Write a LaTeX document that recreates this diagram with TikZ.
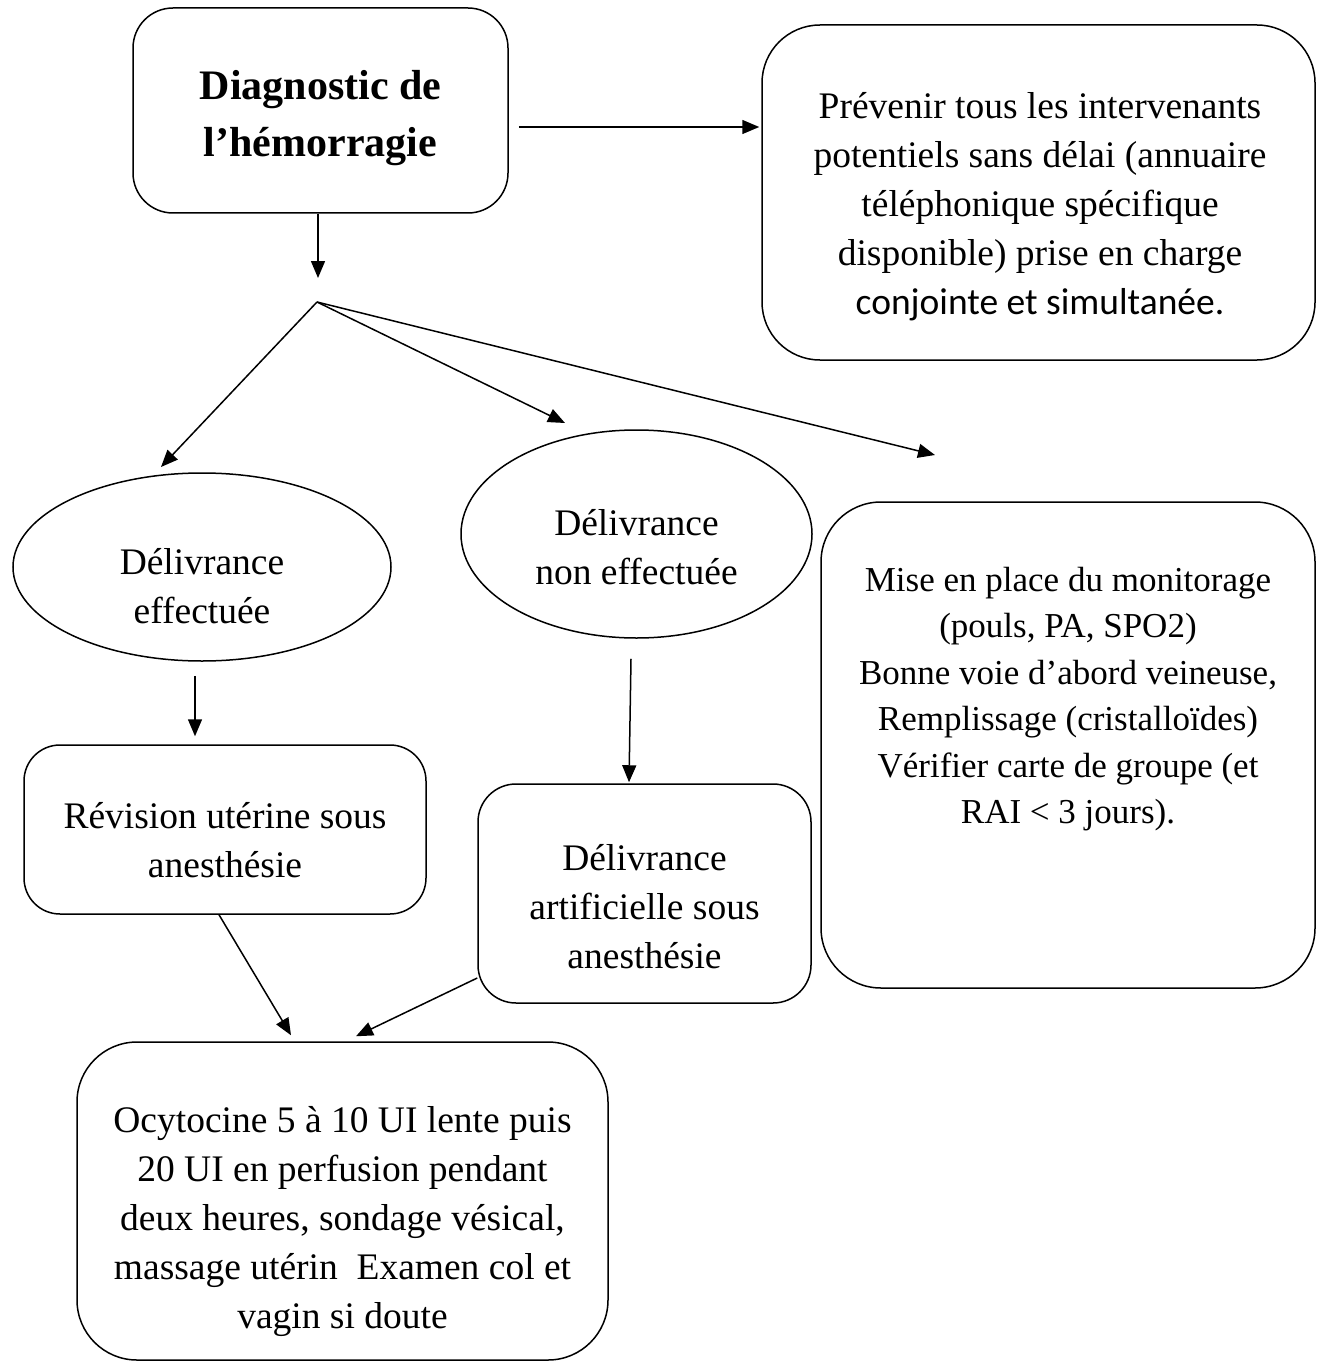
\documentclass[tikz,border=0pt]{standalone}
\usepackage{fontspec}
\setmainfont{Liberation Serif}
\newfontfamily\calibfont{Carlito}
\usetikzlibrary{arrows.meta,shapes.geometric}
\begin{document}
\begin{tikzpicture}[x=1pt,y=-1pt,
  rbox/.style={draw, line width=1.5pt, rounded corners=#1, inner sep=0pt},
  ell/.style={draw, ellipse, line width=1.5pt, inner sep=0pt},
  txt/.style={align=center, inner sep=0pt, font=\fontsize{37.5}{49}\selectfont},
  txtc/.style={align=center, inner sep=0pt, font=\fontsize{35}{46.5}\selectfont},
  txtb/.style={align=center, inner sep=0pt, font=\fontsize{42}{57}\selectfont\bfseries},
  arr/.style={-{Triangle[length=17pt,width=14pt]}, line width=1.5pt},
  conn/.style={line width=1.5pt}]
\useasboundingbox (0,0) rectangle (1325,1364);

% boxes and ellipses
\node[rbox=40pt, minimum width=375pt, minimum height=205pt] (A) at (320.5,110.5) {};
\node[rbox=58pt, minimum width=553pt, minimum height=335pt] (B) at (1038.5,192.5) {};
\node[rbox=60pt, minimum width=494pt, minimum height=486pt] (C) at (1068,745) {};
\node[ell, minimum width=378pt, minimum height=188pt] (E1) at (202,567) {};
\node[ell, minimum width=351pt, minimum height=208pt] (E2) at (636.5,534) {};
\node[rbox=36pt, minimum width=402pt, minimum height=169pt] (D) at (225,829.5) {};
\node[rbox=38pt, minimum width=333pt, minimum height=219pt] (E) at (644.5,893.5) {};
\node[rbox=60pt, minimum width=531pt, minimum height=318pt] (F) at (342.5,1201) {};

% texts
\node[txtb] (tA) at (320.5,117.1) {\strut Diagnostic de\\ l’hémorragie\strut};
\node[txt] (tB) at (1040,206.7) {\strut Prévenir tous les intervenants\\ potentiels sans délai (annuaire\\ téléphonique spécifique\\ disponible) prise en charge\\ {\calibfont conjointe et simultanée.}\strut};
\node[txtc] (tC) at (1068,698.2) {\strut Mise en place du monitorage\\ (pouls, PA, SPO2)\\ Bonne voie d’abord veineuse,\\ Remplissage (cristalloïdes)\\ Vérifier carte de groupe (et\\ RAI < 3 jours).\strut};
\node[txt] (tE1) at (202,589.2) {\strut Délivrance\\ effectuée\strut};
\node[txt] (tE2) at (636.5,550.2) {\strut Délivrance\\ non effectuée\strut};
\node[txt] (tD) at (225,842.7) {\strut Révision utérine sous\\ anesthésie\strut};
\node[txt] (tE) at (644.5,909.2) {\strut Délivrance\\ artificielle sous\\ anesthésie\strut};
\node[txt] (tF) at (342.5,1220.2) {\strut Ocytocine 5 à 10 UI lente puis\\ 20 UI en perfusion pendant\\ deux heures, sondage vésical,\\ massage utérin\ \ Examen col et\\ vagin si doute\strut};

% free ends
\coordinate (tipA) at (318,278);
\coordinate (J) at (317,302);
\coordinate (t1) at (161,467);
\coordinate (t2) at (565,423);
\coordinate (t3) at (935,455);

% connectors
\draw[arr] ([xshift=10pt,yshift=-16.5pt]A.east) -- ([xshift=-2pt,yshift=65.5pt]B.west);
\draw[arr] ([xshift=-2.5pt]A.south) -- (tipA);
\draw[arr] (J) -- (t1);
\draw[arr] (J) -- (t2);
\draw[arr] (J) -- (t3);
\draw[arr] ([xshift=-7pt,yshift=-14pt]E1.south) -- ([xshift=-30pt,yshift=8pt]D.north);
\draw[arr] ([xshift=-5.5pt,yshift=-20pt]E2.south) -- ([xshift=-15.5pt,yshift=1pt]E.north);
\draw[arr] ([xshift=-6pt]D.south) -- ([xshift=-51.5pt,yshift=6pt]F.north);
\draw[arr] ([yshift=-84.5pt]E.west) -- ([xshift=13.5pt,yshift=5pt]F.north);
\end{tikzpicture}
\end{document}
